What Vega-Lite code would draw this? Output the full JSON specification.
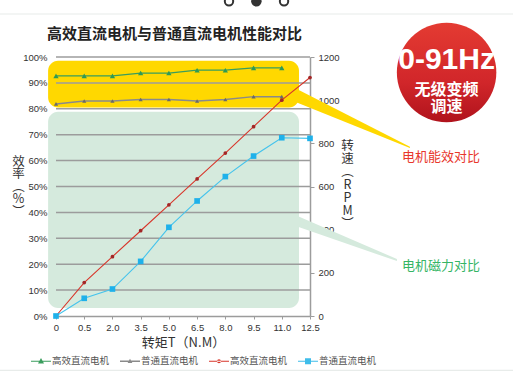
{
  "$schema": "https://vega.github.io/schema/vega-lite/v6.json",
  "width": 254,
  "height": 259,
  "autosize": "none",
  "padding": {"left": 56, "top": 57, "right": 203, "bottom": 67},
  "background": "white",
  "title": {"text": "高效直流电机与普通直流电机性能对比", "anchor": "start", "frame": "group", "dx": -9, "offset": -49, "font": "Noto Sans CJK SC", "fontSize": 15, "fontWeight": "bold", "color": "#222222"},
  "config": {"view": {"stroke": null}, "font": "Noto Sans CJK SC"},
  "datasets": {
    "series": [
      {"idx": 0, "series": "A", "value": 92.7},
      {"idx": 1, "series": "A", "value": 92.7},
      {"idx": 2, "series": "A", "value": 92.7},
      {"idx": 3, "series": "A", "value": 93.8},
      {"idx": 4, "series": "A", "value": 93.8},
      {"idx": 5, "series": "A", "value": 94.9},
      {"idx": 6, "series": "A", "value": 94.9},
      {"idx": 7, "series": "A", "value": 95.8},
      {"idx": 8, "series": "A", "value": 95.8},
      {"idx": 0, "series": "B", "value": 81.9},
      {"idx": 1, "series": "B", "value": 83.0},
      {"idx": 2, "series": "B", "value": 83.0},
      {"idx": 3, "series": "B", "value": 83.6},
      {"idx": 4, "series": "B", "value": 83.6},
      {"idx": 5, "series": "B", "value": 83.0},
      {"idx": 6, "series": "B", "value": 83.6},
      {"idx": 7, "series": "B", "value": 84.7},
      {"idx": 8, "series": "B", "value": 84.7},
      {"idx": 0, "series": "C", "value": 0},
      {"idx": 1, "series": "C", "value": 155},
      {"idx": 2, "series": "C", "value": 275},
      {"idx": 3, "series": "C", "value": 395},
      {"idx": 4, "series": "C", "value": 515},
      {"idx": 5, "series": "C", "value": 635},
      {"idx": 6, "series": "C", "value": 755},
      {"idx": 7, "series": "C", "value": 877},
      {"idx": 8, "series": "C", "value": 1000},
      {"idx": 9, "series": "C", "value": 1105},
      {"idx": 0, "series": "D", "value": 0},
      {"idx": 1, "series": "D", "value": 82},
      {"idx": 2, "series": "D", "value": 125},
      {"idx": 3, "series": "D", "value": 253},
      {"idx": 4, "series": "D", "value": 411},
      {"idx": 5, "series": "D", "value": 533},
      {"idx": 6, "series": "D", "value": 646},
      {"idx": 7, "series": "D", "value": 741},
      {"idx": 8, "series": "D", "value": 826},
      {"idx": 9, "series": "D", "value": 823}
    ],
    "boxes": [
      {"kind": "yellow", "x1": -0.28, "x2": 8.61, "y1": 98.6, "y2": 80.5},
      {"kind": "green", "x1": -0.28, "x2": 8.61, "y1": 78.9, "y2": 3.1}
    ],
    "wedges": [
      {"kind": "yellow", "wx": 8.29, "top": 89.0, "bot": 83.5},
      {"kind": "yellow", "wx": 12.54, "top": 65.3, "bot": 64.9},
      {"kind": "green", "wx": 8.29, "top": 39.9, "bot": 35.5},
      {"kind": "green", "wx": 12.08, "top": 22.0, "bot": 21.2}
    ],
    "pageLines": [
      {"lx1": -1.99, "lx2": 16.2, "ly": 116.6},
      {"lx1": -1.99, "lx2": 16.2, "ly": -21.0}
    ],
    "dots": [
      {"dx": 6.13, "dy": 121.5, "state": "off"},
      {"dx": 7.1, "dy": 121.5, "state": "on"},
      {"dx": 8.08, "dy": 121.5, "state": "off"}
    ],
    "grid": [{"g": 10}, {"g": 20}, {"g": 30}, {"g": 40}, {"g": 50}, {"g": 60}, {"g": 70}, {"g": 80}, {"g": 90}, {"g": 100}],
    "notes": [
      {"kind": "red", "tx": 13.64, "ty": 61.4, "label": "电机能效对比"},
      {"kind": "green", "tx": 13.64, "ty": 19.3, "label": "电机磁力对比"}
    ],
    "badge": [{"bx": 13.84, "by": 94.0}],
    "badgeText": [
      {"kind": "big", "bx": 13.84, "by": 98.8, "label": "0-91Hz"},
      {"kind": "small", "bx": 13.84, "by": 87.3, "label": "无级变频"},
      {"kind": "small", "bx": 13.84, "by": 80.7, "label": "调速"}
    ]
  },
  "resolve": {"scale": {"y": "independent"}},
  "layer": [
    {
      "data": {"name": "boxes"},
      "transform": [{"filter": "datum.kind === 'green'"}],
      "mark": {"type": "rect", "cornerRadius": 10, "fill": "#d5eadd", "clip": false},
      "encoding": {
        "x": {"field": "x1", "type": "quantitative", "scale": {"domain": [0, 9], "nice": false, "zero": false},
          "axis": {"orient": "bottom", "values": [0, 1, 2, 3, 4, 5, 6, 7, 8, 9], "tickCount": 10, "labelExpr": "['0','0.5','2.0','3.5','5.0','6.5','8.0','9.5','11.0','12.5'][datum.value]", "labelOverlap": false, "domain": true, "ticks": true, "labels": true, "domainColor": "#9c9c9c", "domainWidth": 1.5, "tickColor": "#9c9c9c", "tickSize": 3, "labelPadding": 3, "labelFont": "Liberation Sans Narrow, Liberation Sans", "labelFontSize": 9.5, "labelColor": "#333333", "labelFlush": false, "grid": false,
            "title": "转矩T（N.M）", "titleFont": "Noto Sans CJK SC", "titleFontSize": 13, "titleFontWeight": "normal", "titleColor": "#333333", "titlePadding": 5}},
        "x2": {"field": "x2"},
        "y": {"field": "y1", "type": "quantitative", "scale": {"domain": [0, 100], "nice": false, "zero": false}, "axis": null},
        "y2": {"field": "y2"}
      }
    },
    {
      "data": {"name": "pageLines"},
      "mark": {"type": "rule", "color": "#e8ecea", "strokeWidth": 1.2, "clip": false},
      "encoding": {
        "x": {"field": "lx1", "type": "quantitative"},
        "x2": {"field": "lx2"},
        "y": {"field": "ly", "type": "quantitative", "scale": {"domain": [0, 100], "nice": false, "zero": false}, "axis": null}
      }
    },
    {
      "data": {"name": "dots"},
      "transform": [{"filter": "datum.state === 'off'"}],
      "mark": {"type": "point", "shape": "circle", "filled": false, "opacity": 1, "size": 70, "color": "#333333", "strokeWidth": 2, "clip": false},
      "encoding": {
        "x": {"field": "dx", "type": "quantitative"},
        "y": {"field": "dy", "type": "quantitative", "scale": {"domain": [0, 100], "nice": false, "zero": false}, "axis": null}
      }
    },
    {
      "data": {"name": "dots"},
      "transform": [{"filter": "datum.state === 'on'"}],
      "mark": {"type": "point", "shape": "circle", "filled": true, "opacity": 1, "size": 110, "color": "#333333", "clip": false},
      "encoding": {
        "x": {"field": "dx", "type": "quantitative"},
        "y": {"field": "dy", "type": "quantitative", "scale": {"domain": [0, 100], "nice": false, "zero": false}, "axis": null}
      }
    },
    {
      "data": {"name": "boxes"},
      "transform": [{"filter": "datum.kind === 'yellow'"}],
      "mark": {"type": "rect", "cornerRadius": 10, "fill": "#ffd800", "clip": false},
      "encoding": {
        "x": {"field": "x1", "type": "quantitative"},
        "x2": {"field": "x2"},
        "y": {"field": "y1", "type": "quantitative", "scale": {"domain": [0, 100], "nice": false, "zero": false}, "axis": null},
        "y2": {"field": "y2"}
      }
    },
    {
      "data": {"name": "wedges"},
      "transform": [{"filter": "datum.kind === 'yellow'"}],
      "mark": {"type": "area", "fill": "#ffd800", "clip": false},
      "encoding": {
        "x": {"field": "wx", "type": "quantitative"},
        "y": {"field": "top", "type": "quantitative", "scale": {"domain": [0, 100], "nice": false, "zero": false}, "axis": null},
        "y2": {"field": "bot"}
      }
    },
    {
      "data": {"name": "wedges"},
      "transform": [{"filter": "datum.kind === 'green'"}],
      "mark": {"type": "area", "fill": "#d5eadd", "clip": false},
      "encoding": {
        "x": {"field": "wx", "type": "quantitative"},
        "y": {"field": "top", "type": "quantitative", "scale": {"domain": [0, 100], "nice": false, "zero": false}, "axis": null},
        "y2": {"field": "bot"}
      }
    },
    {
      "data": {"name": "grid"},
      "mark": {"type": "rule", "color": "#9c9c9c", "strokeWidth": 1.5},
      "encoding": {
        "x": {"datum": 0, "type": "quantitative"},
        "x2": {"datum": 9},
        "y": {"field": "g", "type": "quantitative", "scale": {"domain": [0, 100], "nice": false, "zero": false},
          "axis": {"orient": "left", "values": [0, 10, 20, 30, 40, 50, 60, 70, 80, 90, 100], "labelExpr": "datum.value + '%'", "domain": false, "ticks": false, "grid": false, "labelPadding": 9, "labelFont": "Liberation Sans Narrow, Liberation Sans", "labelFontSize": 9.5, "labelColor": "#333333",
            "title": ["效", "率", "︵", "%", "︶"], "titleAngle": 0, "titleX": -38, "titleY": 104, "titleAlign": "center", "titleBaseline": "middle", "titleFontSize": 12.5, "titleFontWeight": "normal", "titleColor": "#333333", "titleLineHeight": 12.5, "titleFont": "Noto Sans CJK SC"}}
      }
    },
    {
      "data": {"name": "badge"},
      "mark": {"type": "point", "shape": "circle", "filled": true, "opacity": 1, "size": 9900, "strokeWidth": 0, "clip": false,
        "fill": {"gradient": "linear", "x1": 0, "y1": 0, "x2": 0, "y2": 1, "stops": [{"offset": 0, "color": "#e43b32"}, {"offset": 0.6, "color": "#d1262a"}, {"offset": 1, "color": "#b0131c"}]}},
      "encoding": {
        "x": {"field": "bx", "type": "quantitative"},
        "y": {"field": "by", "type": "quantitative", "scale": {"domain": [0, 100], "nice": false, "zero": false}, "axis": null}
      }
    },
    {
      "data": {"name": "badgeText"},
      "transform": [{"filter": "datum.kind === 'big'"}],
      "mark": {"type": "text", "color": "white", "font": "Liberation Sans", "fontWeight": "bold", "fontSize": 30, "align": "center", "baseline": "middle", "clip": false},
      "encoding": {
        "x": {"field": "bx", "type": "quantitative"},
        "y": {"field": "by", "type": "quantitative", "scale": {"domain": [0, 100], "nice": false, "zero": false}, "axis": null},
        "text": {"field": "label"}
      }
    },
    {
      "data": {"name": "badgeText"},
      "transform": [{"filter": "datum.kind === 'small'"}],
      "mark": {"type": "text", "color": "white", "font": "Noto Sans CJK SC", "fontWeight": "bold", "fontSize": 16, "align": "center", "baseline": "middle", "clip": false},
      "encoding": {
        "x": {"field": "bx", "type": "quantitative"},
        "y": {"field": "by", "type": "quantitative", "scale": {"domain": [0, 100], "nice": false, "zero": false}, "axis": null},
        "text": {"field": "label"}
      }
    },
    {
      "data": {"name": "notes"},
      "transform": [{"filter": "datum.kind === 'red'"}],
      "mark": {"type": "text", "color": "#e8372c", "font": "Noto Sans CJK SC", "fontSize": 13, "align": "center", "baseline": "middle", "clip": false},
      "encoding": {
        "x": {"field": "tx", "type": "quantitative"},
        "y": {"field": "ty", "type": "quantitative", "scale": {"domain": [0, 100], "nice": false, "zero": false}, "axis": null},
        "text": {"field": "label"}
      }
    },
    {
      "data": {"name": "notes"},
      "transform": [{"filter": "datum.kind === 'green'"}],
      "mark": {"type": "text", "color": "#35b565", "font": "Noto Sans CJK SC", "fontSize": 13, "align": "center", "baseline": "middle", "clip": false},
      "encoding": {
        "x": {"field": "tx", "type": "quantitative"},
        "y": {"field": "ty", "type": "quantitative", "scale": {"domain": [0, 100], "nice": false, "zero": false}, "axis": null},
        "text": {"field": "label"}
      }
    },
    {
      "data": {"name": "series"},
      "transform": [{"filter": "datum.series === 'A'"}],
      "mark": {"type": "line", "color": "#3a9d5d", "strokeWidth": 1.3},
      "encoding": {
        "x": {"field": "idx", "type": "quantitative"},
        "y": {"field": "value", "type": "quantitative", "scale": {"domain": [0, 100], "nice": false, "zero": false}, "axis": null}
      }
    },
    {
      "data": {"name": "series"},
      "transform": [{"filter": "datum.series === 'A'"}],
      "mark": {"type": "point", "shape": "triangle-up", "filled": true, "opacity": 1, "size": 28, "color": "#2f9a55"},
      "encoding": {
        "x": {"field": "idx", "type": "quantitative"},
        "y": {"field": "value", "type": "quantitative", "scale": {"domain": [0, 100], "nice": false, "zero": false}, "axis": null}
      }
    },
    {
      "data": {"name": "series"},
      "transform": [{"filter": "datum.series === 'B'"}],
      "mark": {"type": "line", "color": "#8a8a8a", "strokeWidth": 1.5},
      "encoding": {
        "x": {"field": "idx", "type": "quantitative"},
        "y": {"field": "value", "type": "quantitative", "scale": {"domain": [0, 100], "nice": false, "zero": false}, "axis": null}
      }
    },
    {
      "data": {"name": "series"},
      "transform": [{"filter": "datum.series === 'B'"}],
      "mark": {"type": "point", "shape": "triangle-up", "filled": true, "opacity": 1, "size": 18, "color": "#6a6a6a"},
      "encoding": {
        "x": {"field": "idx", "type": "quantitative"},
        "y": {"field": "value", "type": "quantitative", "scale": {"domain": [0, 100], "nice": false, "zero": false}, "axis": null}
      }
    },
    {
      "data": {"name": "series"},
      "transform": [{"filter": "datum.series === 'C'"}],
      "mark": {"type": "line", "color": "#d8352a", "strokeWidth": 1.1},
      "encoding": {
        "x": {"field": "idx", "type": "quantitative"},
        "y": {"field": "value", "type": "quantitative", "scale": {"domain": [0, 1200], "nice": false, "zero": false},
          "axis": {"orient": "right", "values": [0, 200, 400, 600, 800, 1000, 1200], "format": "d", "domainColor": "#9c9c9c", "domainWidth": 1.5, "tickColor": "#9c9c9c", "tickSize": 4, "labelPadding": 4, "labelFont": "Liberation Sans Narrow, Liberation Sans", "labelFontSize": 9.5, "labelColor": "#333333", "grid": false, "labelFlush": false,
            "title": ["转", "速", "︵", "R", "P", "M", "︶"], "titleAngle": 0, "titleX": 37, "titleY": 88, "titleAlign": "center", "titleBaseline": "middle", "titleFont": "Noto Sans CJK SC", "titleFontSize": 12.5, "titleFontWeight": "normal", "titleColor": "#333333", "titleLineHeight": 13}}
      }
    },
    {
      "data": {"name": "series"},
      "transform": [{"filter": "datum.series === 'C'"}],
      "mark": {"type": "point", "shape": "circle", "filled": true, "opacity": 1, "size": 14, "color": "#a32626"},
      "encoding": {
        "x": {"field": "idx", "type": "quantitative"},
        "y": {"field": "value", "type": "quantitative", "scale": {"domain": [0, 1200], "nice": false, "zero": false}, "axis": null}
      }
    },
    {
      "data": {"name": "series"},
      "transform": [{"filter": "datum.series === 'D'"}],
      "mark": {"type": "line", "color": "#45c3ec", "strokeWidth": 1.1},
      "encoding": {
        "x": {"field": "idx", "type": "quantitative"},
        "y": {"field": "value", "type": "quantitative", "scale": {"domain": [0, 1200], "nice": false, "zero": false}, "axis": null}
      }
    },
    {
      "data": {"name": "series"},
      "transform": [{"filter": "datum.series === 'D'"}],
      "mark": {"type": "point", "shape": "square", "filled": true, "opacity": 1, "size": 32, "color": "#1fb1ea"},
      "encoding": {
        "x": {"field": "idx", "type": "quantitative"},
        "y": {"field": "value", "type": "quantitative", "scale": {"domain": [0, 1200], "nice": false, "zero": false}, "axis": null}
      }
    },
    {
      "data": {"name": "series"},
      "mark": {"type": "point", "filled": true, "opacity": 0},
      "encoding": {
        "x": {"field": "idx", "type": "quantitative"},
        "y": {"field": "value", "type": "quantitative", "scale": {"domain": [0, 1200], "nice": false, "zero": false}, "axis": null},
        "color": {"field": "series", "type": "nominal",
          "scale": {"domain": ["A", "B", "C", "D"], "range": ["#3a9d5d", "#8a8a8a", "#d8352a", "#3fbdea"]},
          "legend": {"orient": "none", "legendX": -25, "legendY": 294, "direction": "horizontal", "title": null,
            "labelExpr": "(datum.value === 'A' || datum.value === 'C') ? '高效直流电机' : '普通直流电机'",
            "symbolSize": 400, "symbolStrokeWidth": 0, "symbolOpacity": 1, "labelFontSize": 9.5, "labelColor": "#555555", "labelFont": "Noto Sans CJK SC", "columnPadding": 10, "labelOffset": 1}},
        "shape": {"field": "series", "type": "nominal",
          "scale": {"domain": ["A", "B", "C", "D"], "range": [
            "M-1,-0.06H1V0.06H-1Z M0,-0.32L0.3,0.22L-0.3,0.22Z",
            "M-1,-0.07H1V0.07H-1Z M0,-0.26L0.24,0.18L-0.24,0.18Z",
            "M-1,-0.06H1V0.06H-1Z M-0.2,0A0.2,0.2,0,1,0,0.2,0A0.2,0.2,0,1,0,-0.2,0Z",
            "M-1,-0.06H1V0.06H-1Z M-0.3,-0.3H0.3V0.3H-0.3Z"]},
          "legend": {"orient": "none", "legendX": -25, "legendY": 294, "direction": "horizontal", "title": null,
            "labelExpr": "(datum.value === 'A' || datum.value === 'C') ? '高效直流电机' : '普通直流电机'",
            "symbolSize": 400, "symbolStrokeWidth": 0, "symbolOpacity": 1, "labelFontSize": 9.5, "labelColor": "#555555", "labelFont": "Noto Sans CJK SC", "columnPadding": 10, "labelOffset": 1}}
      }
    }
  ]
}
